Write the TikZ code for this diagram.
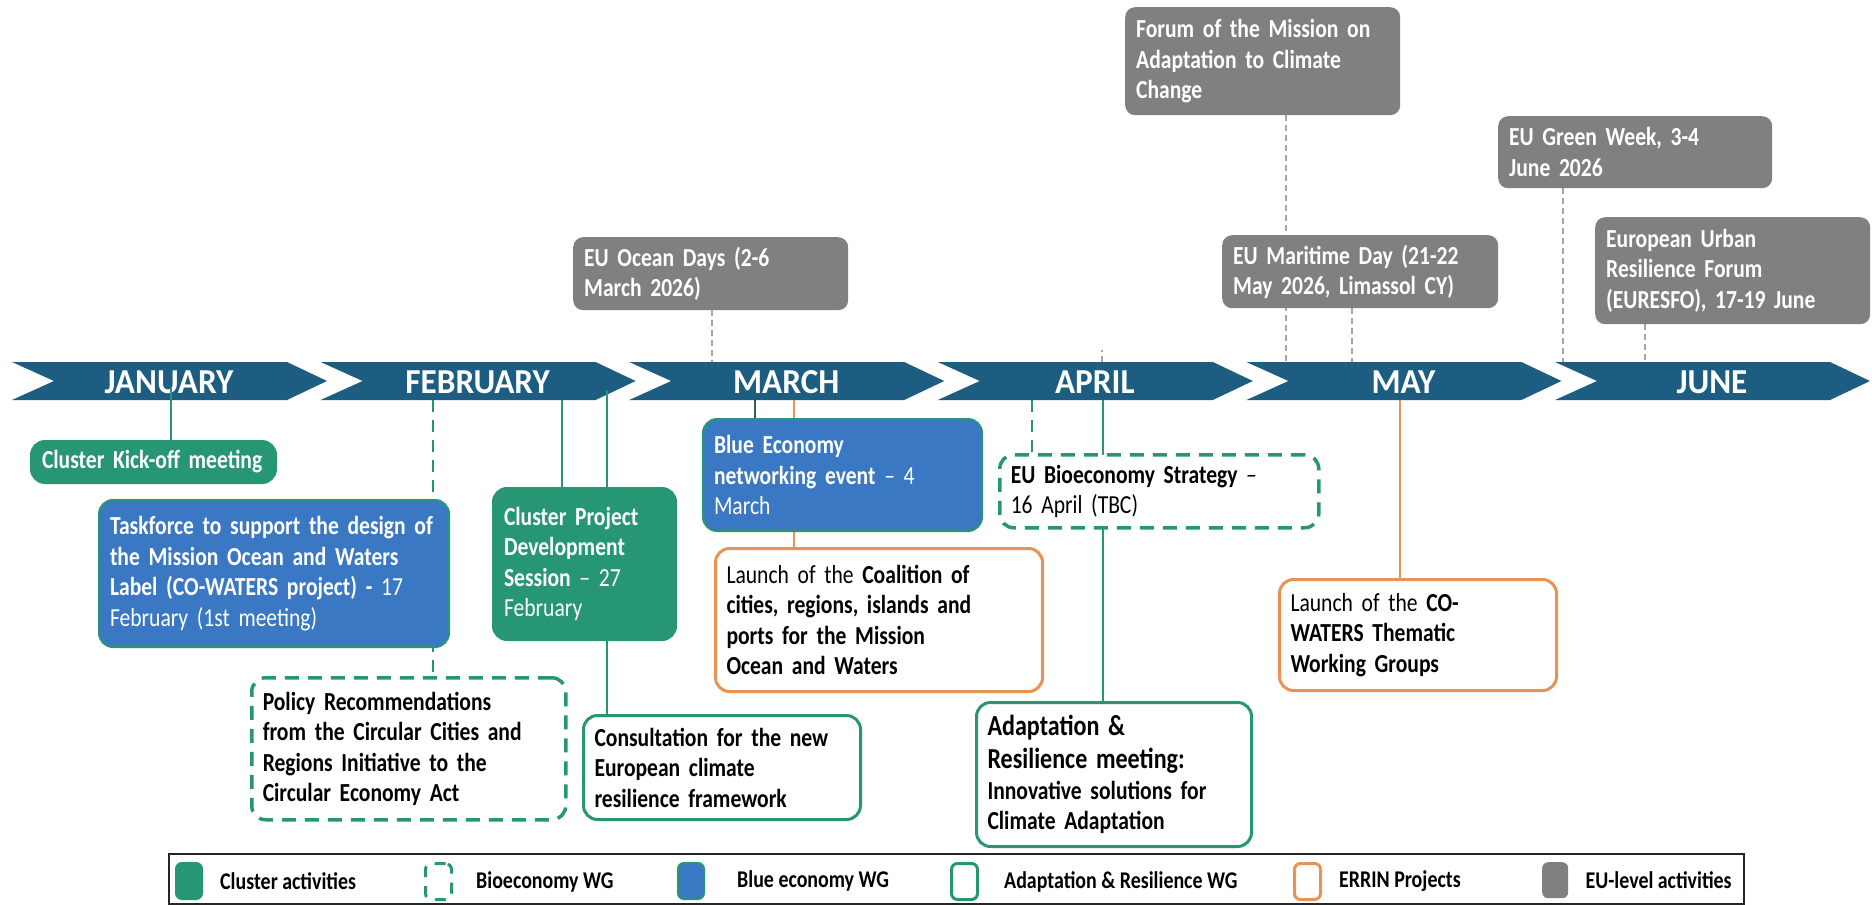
\documentclass[tikz,border=0pt]{standalone}
\usepackage{fontspec}
\setmainfont{Carlito}[FakeStretch=0.83]
\newfontfamily\monthfont{Carlito}[FakeStretch=0.95]
\usetikzlibrary{positioning,backgrounds}

\definecolor{bandblue}{RGB}{29,93,130}
\definecolor{clugreen}{RGB}{39,150,116}
\definecolor{blueeco}{RGB}{58,120,195}
\definecolor{errin}{RGB}{232,146,86}
\definecolor{eugray}{RGB}{128,128,128}
\definecolor{dashgray}{RGB}{165,165,165}
\definecolor{darkline}{RGB}{60,88,84}

\begin{document}
\begin{tikzpicture}[x=1pt,y=-1pt,
    evbox/.style={anchor=north west, rounded corners=14pt, align=left, inner xsep=11pt, inner ysep=0pt, font=\fontsize{26}{30.5}\selectfont},
    clusterbox/.style={evbox, fill=clugreen, draw=clugreen, line width=2pt, text=white, font=\fontsize{26}{30.5}\selectfont\bfseries},
    bluebox/.style={evbox, fill=blueeco, draw=clugreen, line width=2pt, text=white, font=\fontsize{26}{30.5}\selectfont\bfseries},
    biobox/.style={evbox, fill=white, draw=clugreen, line width=3.5pt, dash pattern=on 14pt off 9pt},
    adaptbox/.style={evbox, fill=white, draw=clugreen, line width=3pt},
    errinbox/.style={evbox, fill=white, draw=errin, line width=3pt},
    eubox/.style={evbox, fill=eugray, rounded corners=10pt, text=white, font=\fontsize{26}{30.5}\selectfont\bfseries},
    month/.style={text=white, font=\monthfont\fontsize{35}{40}\selectfont\bfseries},
    cluline/.style={clugreen, line width=2pt},
    bioline/.style={clugreen, line width=2.2pt, dash pattern=on 12pt off 8pt},
    euline/.style={dashgray, line width=1.8pt, dash pattern=on 6pt off 4pt},
    legtext/.style={inner sep=0pt, font=\fontsize{24}{28}\selectfont\bfseries},
  ]
  \useasboundingbox (0,0) rectangle (1872,905);

  % Points on the band
  \coordinate (jan) at (171,388);
  \coordinate (febA) at (433,400);
  \coordinate (febB) at (562,400);
  \coordinate (febC) at (607,390);
  \coordinate (marA) at (755,400);
  \coordinate (marB) at (794,400);
  \coordinate (aprA) at (1032,400);
  \coordinate (aprB) at (1103,400);
  \coordinate (may) at (1400,400);
  \coordinate (oceanT) at (712,362);
  \coordinate (aprT) at (1102,362);
  \coordinate (forumT) at (1286,362);
  \coordinate (mariT) at (1352,362);
  \coordinate (greenT) at (1563,362);
  \coordinate (urbanT) at (1645,362);

  % EU-level activities
  \node[eubox, text width=253pt, minimum height=73pt] (ocean) at (573,237) {EU Ocean Days (2-6\\March 2026)};
  \node[eubox, text width=253pt, minimum height=108pt] (forum) at (1125,7) {Forum of the Mission on\\Adaptation to Climate\\Change};
  \node[eubox, text width=254pt, minimum height=73pt] (mari) at (1222,235) {EU Maritime Day (21-22\\May 2026, Limassol CY)};
  \node[eubox, text width=252pt, minimum height=72pt] (green) at (1498,116) {EU Green Week, 3-4\\June 2026};
  \node[eubox, text width=253pt, minimum height=107pt] (urban) at (1595,217) {European Urban\\Resilience Forum\\(EURESFO), 17-19 June};

  % Events below the band
  \node[clusterbox, text width=223pt, minimum height=42pt] (kick) at (30,440) {Cluster Kick-off meeting};
  \node[bluebox, text width=328pt, minimum height=147pt] (task) at (98,499) {Taskforce to support the design of\\the Mission Ocean and Waters\\Label (CO-WATERS project) - {\mdseries 17}\\{\mdseries February (1st meeting)}};
  \node[clusterbox, text width=161pt, minimum height=152pt] (proj) at (492,487) {Cluster Project\\Development\\Session {\mdseries – 27}\\{\mdseries February}};
  \node[bluebox, text width=257pt, minimum height=112pt] (blue) at (702,418) {Blue Economy\\networking event {\mdseries – 4}\\{\mdseries March}};
  \node[biobox, text width=292pt, minimum height=142pt, font=\fontsize{26}{30.5}\selectfont\bfseries] (policy) at (250,676) {Policy Recommendations\\from the Circular Cities and\\Regions Initiative to the\\Circular Economy Act};
  \node[adaptbox, text width=255pt, minimum height=104pt, font=\fontsize{26}{30.5}\selectfont\bfseries] (consult) at (582,714) {Consultation for the new\\European climate\\resilience framework};
  \node[errinbox, text width=305pt, minimum height=143pt] (coal) at (714,547) {Launch of the \textbf{Coalition of}\\\textbf{cities, regions, islands and}\\\textbf{ports for the Mission}\\\textbf{Ocean and Waters}};
  \node[biobox, text width=297pt, minimum height=73pt] (bioeco) at (998,453) {\textbf{EU Bioeconomy Strategy} –\\16 April (TBC)};
  \node[adaptbox, text width=253pt, minimum height=144pt, font=\fontsize{26}{30.5}\selectfont\bfseries] (adapt) at (975,701) {{\fontsize{29}{33}\selectfont Adaptation \&\\Resilience meeting:\par}Innovative solutions for\\Climate Adaptation};
  \node[errinbox, text width=255pt, minimum height=111pt] (cowat) at (1278,578) {Launch of the \textbf{CO-}\\\textbf{WATERS Thematic}\\\textbf{Working Groups}};

  \begin{scope}[on background layer]
    % Page frame
    \fill[white] (0,0) rectangle (1872,905);
    % Draw the month band
    \foreach \m [count=\i from 0] in {JANUARY,FEBRUARY,MARCH,APRIL,MAY,JUNE}{
      \pgfmathsetmacro{\xo}{12+308.6*\i}
      \fill[bandblue] (\xo,362) -- ++(275,0) -- ++(40,19) -- ++(-40,19) -- ++(-275,0) -- ++(42,-19) -- cycle;
      \node[month] (mon\i) at (\xo+157,382) {\m};
    }
    % Draw the connectors behind the boxes
    \draw[cluline] (jan) -- (jan |- kick.north);
    \draw[bioline] (febA) -- (febA |- policy.north);
    \draw[cluline] (febB) -- (febB |- proj.north);
    \draw[cluline] (febC) -- (febC |- consult.north);
    \draw[darkline, line width=2pt] (marA) -- (marA |- blue.north);
    \draw[errin, line width=2pt] (marB) -- (marB |- coal.north);
    \draw[bioline] (aprA) -- (aprA |- bioeco.north);
    \draw[cluline] (aprB) -- (aprB |- adapt.north);
    \draw[errin, line width=2pt] (may) -- (may |- cowat.north);
    \draw[euline] (ocean.south -| oceanT) -- (oceanT);
    \draw[euline] (aprT) -- ++(0,-12);
    \draw[euline] (forum.south -| forumT) -- (forumT);
    \draw[euline] (mari.south -| mariT) -- (mariT);
    \draw[euline] (green.south -| greenT) -- (greenT);
    \draw[euline] (urban.south -| urbanT) -- (urbanT);
  \end{scope}

  % Legend
  \node[draw=black!85, line width=2pt, anchor=north west, minimum width=1575pt, minimum height=50pt] (legend) at (168,853) {};
  \node[clusterbox, rounded corners=6pt, inner sep=0pt, minimum width=26pt, minimum height=36pt] (sw1) at (175,862) {};
  \node[biobox, rounded corners=6pt, inner sep=0pt, line width=3pt, dash pattern=on 11pt off 9pt, minimum width=26pt, minimum height=36pt] (sw2) at (424,862) {};
  \node[bluebox, rounded corners=6pt, inner sep=0pt, minimum width=26pt, minimum height=36pt] (sw3) at (677,862) {};
  \node[adaptbox, rounded corners=6pt, inner sep=0pt, minimum width=26pt, minimum height=36pt] (sw4) at (950,862) {};
  \node[errinbox, rounded corners=6pt, inner sep=0pt, minimum width=26pt, minimum height=36pt] (sw5) at (1293,862) {};
  \node[eubox, rounded corners=6pt, inner sep=0pt, minimum width=26pt, minimum height=36pt] (sw6) at (1542,862) {};
  \node[legtext, right=17pt of sw1] (lt1) {Cluster activities};
  \node[legtext, right=23pt of sw2] (lt2) {Bioeconomy WG};
  \node[legtext, right=32pt of sw3] (lt3) {Blue economy WG};
  \node[legtext, right=25pt of sw4] (lt4) {Adaptation \& Resilience WG};
  \node[legtext, right=17pt of sw5] (lt5) {ERRIN Projects};
  \node[legtext, right=17pt of sw6] (lt6) {EU-level activities};
\end{tikzpicture}
\end{document}
